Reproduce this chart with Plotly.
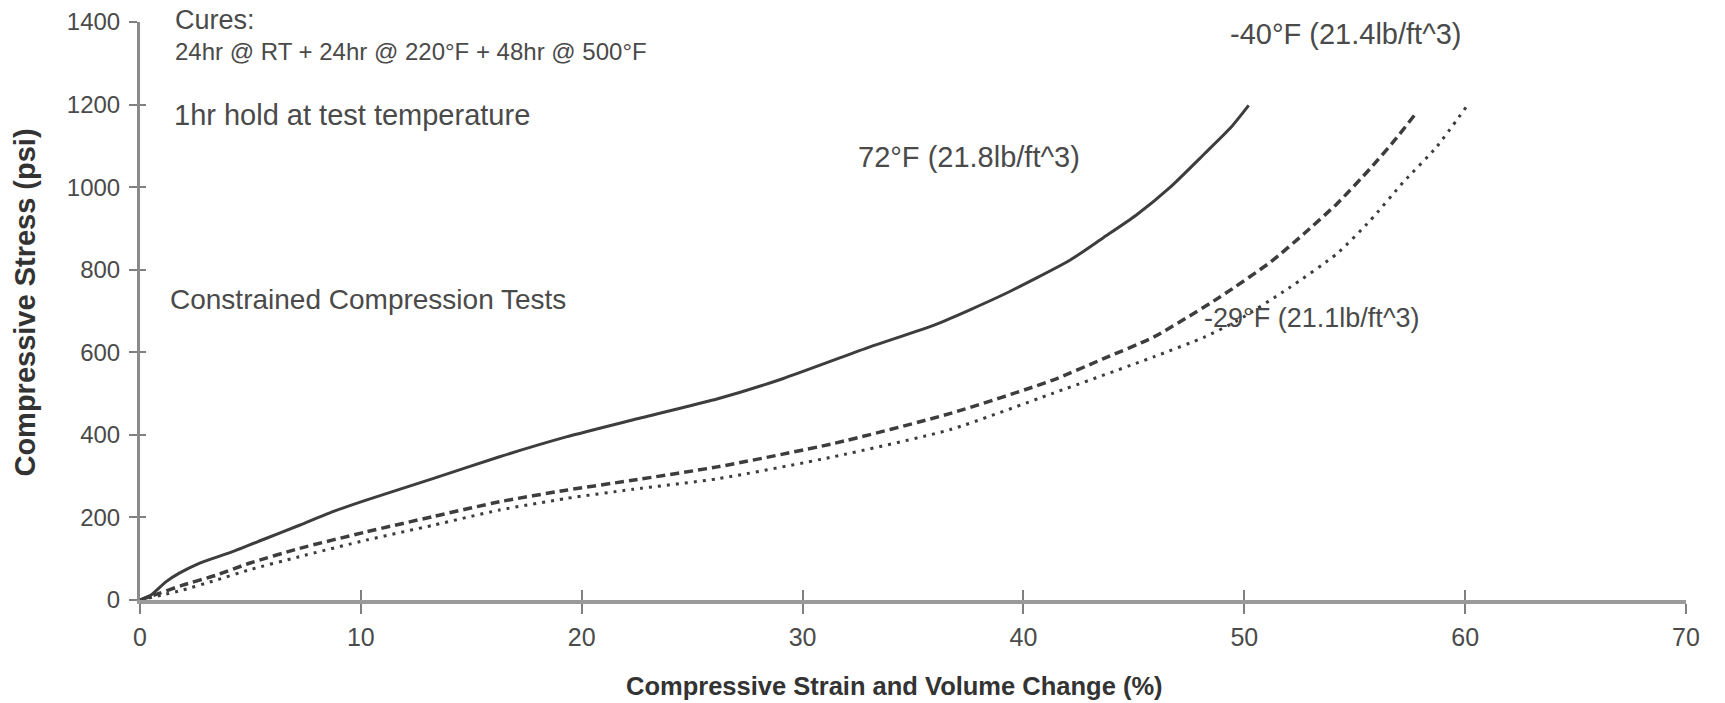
import plotly.graph_objects as go

# ---- data ----
strain_72 = [0, 0.5, 1.17, 1.78, 2.68, 4.19, 5.70, 7.22, 8.73, 10.24, 13.26, 16.28, 19.3, 22.3,
             26.2, 29.1, 33.05, 36.1, 39.1, 42.1, 43.6, 45.1, 46.65, 48.2, 49.4, 50.2]
stress_72 = [0, 12, 44, 65, 89, 117, 149, 181, 214, 242, 294, 347, 395, 436,
             488, 536, 613, 669, 740, 823, 877, 932, 1000, 1081, 1145, 1198]

strain_m40 = [0, 0.87, 1.93, 3.44, 4.95, 7.22, 10.24, 13.26, 16.28, 19.3, 22.3, 26.2, 31.4,
              36.7, 41.3, 43.6, 45.9, 48.9, 51.2, 52.7, 54.2, 55.7, 56.8, 57.7]
stress_m40 = [0, 16, 36, 60, 89, 125, 165, 202, 238, 266, 290, 323, 379,
              452, 532, 584, 637, 734, 819, 887, 960, 1045, 1113, 1174]

strain_m29 = [0, 1.0, 1.93, 3.44, 4.95, 7.22, 10.24, 13.26, 16.28, 19.3, 22.3, 26.2, 31.4,
              36.7, 41.3, 45.9, 48.2, 49.7, 52.0, 54.2, 55.7, 57.2, 58.7, 60.1]
stress_m29 = [0, 12, 24, 48, 73, 105, 145, 181, 218, 246, 268, 294, 347,
              413, 500, 589, 637, 677, 755, 839, 919, 1012, 1097, 1198]

x_ticks = [0, 10, 20, 30, 40, 50, 60, 70]
y_ticks = [0, 200, 400, 600, 800, 1000, 1200, 1400]

Y_MAX = 1400
LINE = "#3d3d3d"
TEXT = "#4a4a4a"
AXIS = "#9a9a9a"
FONT = "Liberation Sans, Arial, sans-serif"

fig = go.Figure()
fig.add_trace(go.Scatter(x=strain_72, y=stress_72, mode="lines", name="72°F",
                         line=dict(color=LINE, width=3, shape="spline", smoothing=0.6)))
fig.add_trace(go.Scatter(x=strain_m40, y=stress_m40, mode="lines", name="-40°F",
                         line=dict(color=LINE, width=3.5, dash="9px,5px", shape="spline", smoothing=0.6)))
fig.add_trace(go.Scatter(x=strain_m29, y=stress_m29, mode="lines", name="-29°F",
                         line=dict(color=LINE, width=3, dash="3px,6px", shape="spline", smoothing=0.6)))
# invisible trace for overlay axes (crossing tick marks)
fig.add_trace(go.Scatter(x=[None], y=[None], xaxis="x2", yaxis="y2", showlegend=False,
                         hoverinfo="skip", mode="lines"))

# annotation anchor: x in data units, y in stress units (converted to paper so it may sit above the range)
annos = [
    dict(text="Cures:", x=1.5, y=1405, size=27),
    dict(text="24hr @ RT + 24hr @ 220°F + 48hr @ 500°F", x=1.5, y=1329, size=24),
    dict(text="1hr hold at test temperature", x=1.46, y=1174, size=29),
    dict(text="Constrained Compression Tests", x=1.25, y=728, size=28),
    dict(text="72°F (21.8lb/ft^3)", x=32.4, y=1073, size=29),
    dict(text="-40°F (21.4lb/ft^3)", x=49.25, y=1370, size=29),
    dict(text="-29°F (21.1lb/ft^3)", x=48.1, y=682, size=27),
]
for a in annos:
    fig.add_annotation(text=a["text"], x=a["x"], y=a["y"] / Y_MAX, xref="x", yref="paper",
                       xanchor="left", yanchor="middle", showarrow=False,
                       font=dict(family=FONT, size=a["size"], color=TEXT))

# axis titles (as annotations to match the reference's offsets)
fig.add_annotation(text="<b>Compressive Strain and Volume Change (%)</b>",
                   xref="paper", yref="paper", x=0.488, y=-0.1495, xanchor="center", yanchor="middle",
                   showarrow=False, font=dict(family=FONT, size=25.5, color="#333333"))
fig.add_annotation(text="<b>Compressive Stress (psi)</b>", textangle=-90,
                   xref="paper", yref="paper", x=-0.075, y=0.5147, xanchor="center", yanchor="middle",
                   showarrow=False, font=dict(family=FONT, size=29, color="#333333"))

fig.update_layout(
    width=1725, height=703,
    margin=dict(l=140, r=39, t=22, b=103),
    paper_bgcolor="white", plot_bgcolor="white",
    showlegend=False,
    font=dict(family=FONT, color=TEXT),
    xaxis=dict(range=[0, 70], tickvals=x_ticks, ticktext=[str(v) for v in x_ticks],
               showgrid=False, zeroline=False, showline=True, linecolor=AXIS, linewidth=4,
               ticks="outside", ticklen=10, tickwidth=2, tickcolor="#808080",
               ticklabelstandoff=2, automargin=False,
               tickfont=dict(family=FONT, size=25, color=TEXT)),
    yaxis=dict(range=[0, Y_MAX], tickvals=y_ticks, ticktext=[str(v) for v in y_ticks],
               showgrid=False, zeroline=False, showline=True, linecolor="#8a8a8a", linewidth=3,
               ticks="outside", ticklen=8, tickwidth=2, tickcolor="#808080",
               ticklabelstandoff=4, automargin=False,
               tickfont=dict(family=FONT, size=24, color=TEXT)),
    xaxis2=dict(range=[0, 70], tickvals=x_ticks, overlaying="x", anchor="y2", side="bottom",
                showgrid=False, zeroline=False, showline=False, showticklabels=False,
                ticks="inside", ticklen=10, tickwidth=2, tickcolor="#808080", automargin=False),
    yaxis2=dict(range=[0, Y_MAX], tickvals=y_ticks, overlaying="y", anchor="x2", side="left",
                showgrid=False, zeroline=False, showline=False, showticklabels=False,
                ticks="inside", ticklen=6, tickwidth=2, tickcolor="#808080", automargin=False),
)

fig.write_html("out.html", config={"displayModeBar": False},
               post_script="document.body.style.margin='0';")
